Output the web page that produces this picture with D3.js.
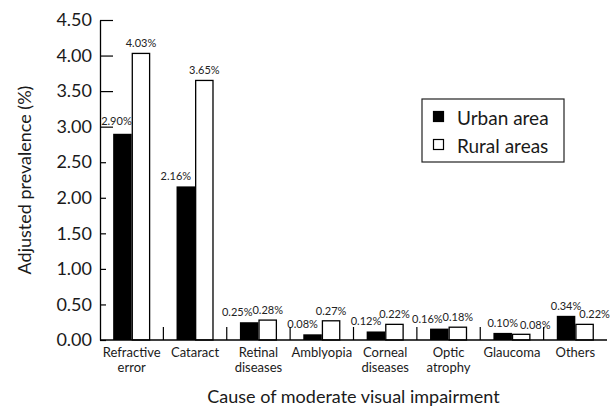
<!DOCTYPE html>
<html>
<head>
<meta charset="utf-8">
<script src="https://cdn.jsdelivr.net/npm/d3@7/dist/d3.min.js"></script>
<style>
  html, body { margin: 0; padding: 0; background: #fff; }
  svg { display: block; }
  text { font-family: Lato, "DejaVu Sans", sans-serif; fill: #1a1a1a; }
</style>
</head>
<body>
<svg id="chart" width="610" height="409"></svg>
<script>
// ---- data ----
const categories = [
  ["Refractive", "error"],
  ["Cataract"],
  ["Retinal", "diseases"],
  ["Amblyopia"],
  ["Corneal", "diseases"],
  ["Optic", "atrophy"],
  ["Glaucoma"],
  ["Others"]
];
const categoryKeys = ["Refractive error", "Cataract", "Retinal diseases", "Amblyopia",
                      "Corneal diseases", "Optic atrophy", "Glaucoma", "Others"];
const urbanValues = [2.90, 2.16, 0.25, 0.08, 0.12, 0.16, 0.10, 0.34];
const ruralValues = [4.03, 3.65, 0.28, 0.27, 0.22, 0.18, 0.08, 0.22];
const seriesNames = ["Urban area", "Rural areas"];
const yTicks = [0, 0.5, 1.0, 1.5, 2.0, 2.5, 3.0, 3.5, 4.0, 4.5];
const yTitle = "Adjusted prevalence (%)";
const xTitle = "Cause of moderate visual impairment";

// label nudges (layout only)
const urbanLabelDx = [-6, -10, -12, -10, -10, -12, 0, 0];
const ruralLabelDx = [0, 0, 0, 0, 0, 0, 14, 10];
const urbanLabelDy = [-3, 0, 0, 0, 0, 0, 0, 0];
const ruralLabelDy = [0, 0, 0, 0, 0, 0, 1, 0];

// ---- layout ----
const svg = d3.select("#chart");
const mLeft = 100, mRight = 607, mTop = 20, mBottom = 340;

const x0 = d3.scaleBand().domain(categoryKeys).range([mLeft, mRight]).padding(0);
const x1 = d3.scaleBand().domain(["urban", "rural"]).range([0, x0.bandwidth()])
  .paddingInner(0).paddingOuter(0.71);
const y = d3.scaleLinear().domain([0, 4.5]).range([mBottom, mTop]);

const rows = categoryKeys.map((k, i) => ({
  key: k, i, urban: urbanValues[i], rural: ruralValues[i]
}));

// bars
const g = svg.append("g");
const groups = g.selectAll("g.grp").data(rows).join("g")
  .attr("transform", d => `translate(${x0(d.key)},0)`);

groups.append("rect")
  .attr("x", x1("urban")).attr("width", x1.bandwidth())
  .attr("y", d => y(d.urban)).attr("height", d => y(0) - y(d.urban))
  .attr("fill", "#000");

groups.append("rect")
  .attr("x", x1("rural") + 0.6).attr("width", x1.bandwidth() - 1.2)
  .attr("y", d => y(d.rural)).attr("height", d => y(0) - y(d.rural))
  .attr("fill", "#fff").attr("stroke", "#000").attr("stroke-width", 1.3);

// value labels
groups.append("text")
  .attr("x", d => x1("urban") + x1.bandwidth() / 2 + urbanLabelDx[d.i])
  .attr("y", d => y(d.urban) - 6 + urbanLabelDy[d.i])
  .attr("text-anchor", "middle").attr("font-size", 11).style("fill", "#222")
  .text(d => d.urban.toFixed(2) + "%");

groups.append("text")
  .attr("x", d => x1("rural") + x1.bandwidth() / 2 + ruralLabelDx[d.i])
  .attr("y", d => y(d.rural) - 6 + ruralLabelDy[d.i])
  .attr("text-anchor", "middle").attr("font-size", 11).style("fill", "#222")
  .text(d => d.rural.toFixed(2) + "%");

// y axis
const yAxis = d3.axisLeft(y).tickValues(yTicks).tickFormat(d3.format(".2f"))
  .tickSizeInner(-6).tickSizeOuter(0).tickPadding(8);
const yg = svg.append("g").attr("transform", `translate(${mLeft},0)`).call(yAxis);
yg.select(".domain").attr("stroke", "#000").attr("stroke-width", 1.3);
yg.selectAll(".tick line").attr("stroke", "#000").attr("stroke-width", 1.2)
  .attr("x2", d => d >= 3 ? 13 : 6);
yg.selectAll(".tick text").attr("font-size", 18).style("fill", "#1a1a1a")
  .style("font-family", "Lato, 'DejaVu Sans', sans-serif");

// x axis line and boundary ticks
svg.append("line").attr("x1", mLeft).attr("x2", mRight).attr("y1", mBottom).attr("y2", mBottom)
  .attr("stroke", "#000").attr("stroke-width", 1.3);
svg.selectAll("line.xtick").data(categoryKeys.slice(1)).join("line")
  .attr("class", "xtick")
  .attr("x1", d => x0(d)).attr("x2", d => x0(d))
  .attr("y1", mBottom).attr("y2", mBottom - 13)
  .attr("stroke", "#000").attr("stroke-width", 1.2);

// category labels
const cl = svg.selectAll("text.cat").data(rows).join("text")
  .attr("class", "cat")
  .attr("x", d => x0(d.key) + x0.bandwidth() / 2)
  .attr("y", 357)
  .attr("text-anchor", "middle").attr("font-size", 13);
cl.selectAll("tspan").data(d => categories[d.i]).join("tspan")
  .attr("x", function() { return d3.select(this.parentNode).attr("x"); })
  .attr("dy", (d, j) => j === 0 ? 0 : 15)
  .text(d => d);

// axis titles
svg.append("text").attr("x", (mLeft + mRight) / 2).attr("y", 403)
  .attr("text-anchor", "middle").attr("font-size", 18).text(xTitle);
svg.append("text").attr("transform", `translate(31,${(mTop + mBottom) / 2}) rotate(-90)`)
  .attr("text-anchor", "middle").attr("font-size", 18).text(yTitle);

// legend
const lg = svg.append("g").attr("transform", "translate(422,99)");
lg.append("rect").attr("width", 142).attr("height", 63)
  .attr("fill", "#fff").attr("stroke", "#222").attr("stroke-width", 1.2);
seriesNames.forEach((name, i) => {
  lg.append("rect").attr("x", 11.5).attr("y", 12.5 + i * 28).attr("width", 10).attr("height", 10)
    .attr("fill", i === 0 ? "#000" : "#fff").attr("stroke", "#000").attr("stroke-width", 1.2);
  lg.append("text").attr("x", 35).attr("y", 26 + i * 28).attr("font-size", 19).text(name);
});
</script>
</body>
</html>
